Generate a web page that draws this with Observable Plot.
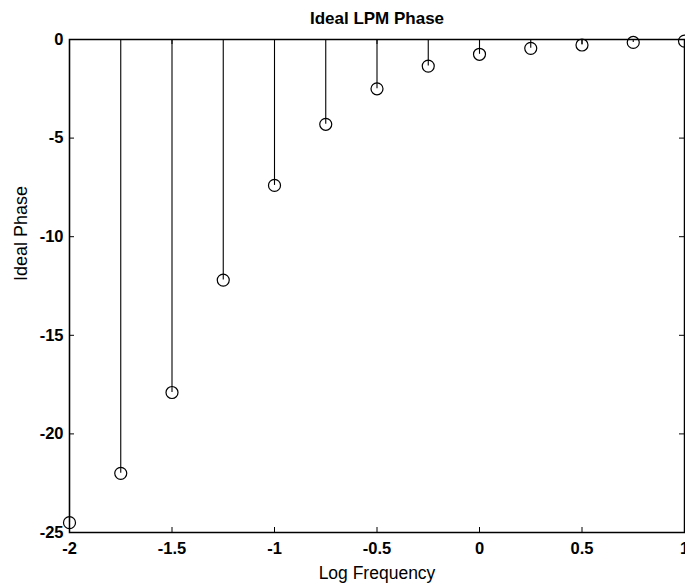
<!DOCTYPE html>
<html>
<head>
<meta charset="utf-8">
<script src="https://cdn.jsdelivr.net/npm/d3@7"></script>
<script src="https://cdn.jsdelivr.net/npm/@observablehq/plot@0.6"></script>
<style>
  html, body { margin: 0; padding: 0; background: #fff; }
  svg { display: block; }
</style>
</head>
<body>
<div id="chart"></div>
<script>
const logFreq = [-2, -1.75, -1.5, -1.25, -1, -0.75, -0.5, -0.25, 0, 0.25, 0.5, 0.75, 1];
const idealPhase = [-24.5, -22.0, -17.9, -12.2, -7.4, -4.3, -2.5, -1.35, -0.75, -0.45, -0.28, -0.15, -0.08];
const xTicks = [-2, -1.5, -1, -0.5, 0, 0.5, 1];
const yTicks = [0, -5, -10, -15, -20, -25];
const titleText = "Ideal LPM Phase";
const xLabel = "Log Frequency";
const yLabel = "Ideal Phase";

const data = logFreq.map((x, i) => ({x, y: idealPhase[i]}));

const W = 685, H = 588;
const mL = 69, mR = 1, mT = 39, mB = 56;
const plotW = W - mL - mR, plotH = H - mT - mB;
const tick = 5;
const font = "'Liberation Sans', Arial, Helvetica, sans-serif";

const chart = Plot.plot({
  width: W,
  height: H,
  marginLeft: mL,
  marginRight: mR,
  marginTop: mT,
  marginBottom: mB,
  style: {fontFamily: font, background: "#fff", color: "#000", overflow: "visible"},
  x: {domain: [-2, 1]},
  y: {domain: [-25, 0]},
  marks: [
    Plot.ruleX(data, {x: "x", y1: 0, y2: "y", stroke: "#000", strokeWidth: 1.1}),
    Plot.dot(data, {x: "x", y: "y", r: 6, stroke: "#000", strokeWidth: 1.2, fill: "none"}),
    Plot.ruleX(xTicks, {x: d => d, insetTop: plotH - tick, stroke: "#000"}),
    Plot.ruleX(xTicks, {x: d => d, insetBottom: plotH - tick, stroke: "#000"}),
    Plot.ruleY(yTicks, {y: d => d, insetRight: plotW - tick, stroke: "#000"}),
    Plot.ruleY(yTicks, {y: d => d, insetLeft: plotW - tick, stroke: "#000"}),
    Plot.frame({stroke: "#000", strokeWidth: 1.5}),
    Plot.axisX(xTicks, {tickSize: 0, tickPadding: 10, tickFormat: d => String(d), fontSize: 16.5, fontWeight: "bold", label: null}),
    Plot.axisY(yTicks, {tickSize: 0, tickPadding: 6, tickFormat: d => String(d), fontSize: 16.5, fontWeight: "bold", label: null}),
    Plot.text([titleText], {frameAnchor: "top", lineAnchor: "middle", dy: -21, fontSize: 17, fontWeight: "bold", fill: "#000"}),
    Plot.text([xLabel], {frameAnchor: "bottom", lineAnchor: "middle", dy: 41, fontSize: 17.5, fill: "#000"}),
    Plot.text([yLabel], {frameAnchor: "left", lineAnchor: "middle", dx: -48, dy: -5, rotate: -90, fontSize: 18, fill: "#000"})
  ]
});
document.getElementById("chart").appendChild(chart);
</script>
</body>
</html>
